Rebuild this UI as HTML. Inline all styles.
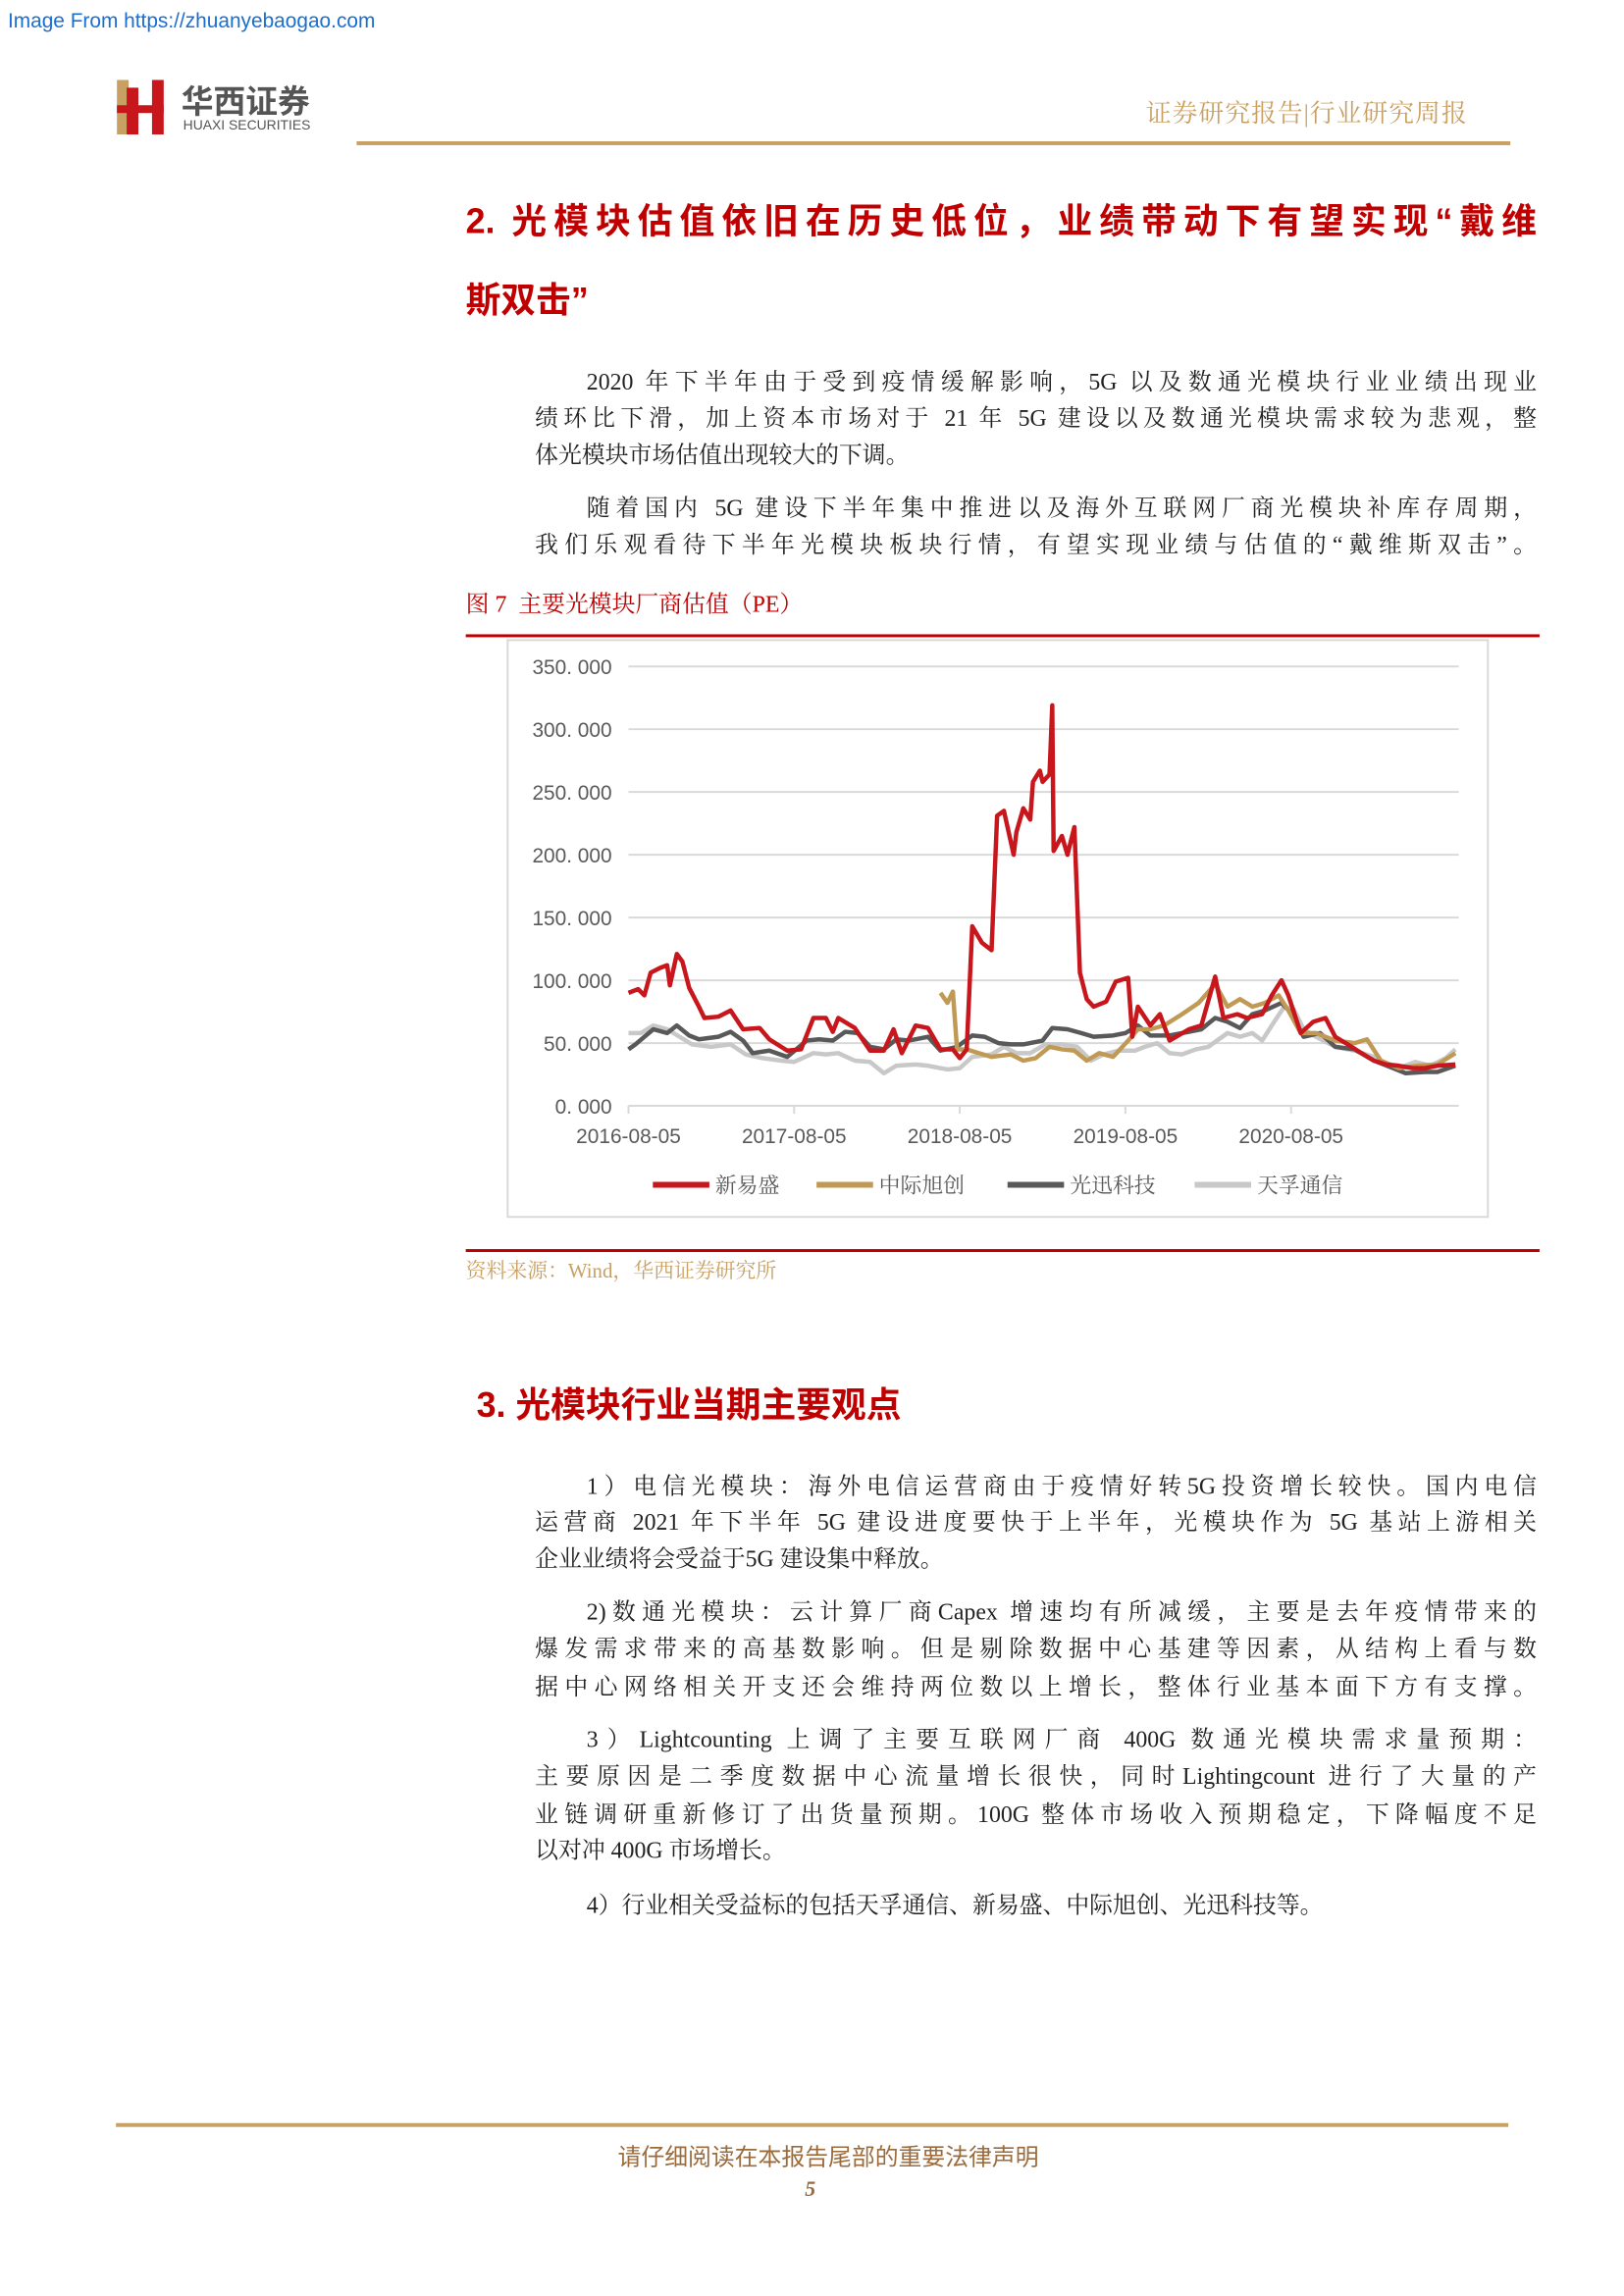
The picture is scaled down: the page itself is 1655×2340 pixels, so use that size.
<!DOCTYPE html>
<html><head><meta charset="utf-8">
<style>
body{margin:0;background:#fff;}
#outer{position:relative;width:1655px;height:2340px;overflow:hidden;background:#fff;}
#page{position:relative;width:1655px;height:2340px;overflow:hidden;background:#fff;font-family:"Liberation Serif","Noto Serif CJK SC",serif;color:#222;transform:scale(0.993);transform-origin:0 0;}
.abs{position:absolute;white-space:nowrap;}
.ln{position:absolute;left:549px;width:1028px;height:38px;line-height:38px;font-size:24px;white-space:nowrap;text-align:justify;text-align-last:justify;color:#222;}
.ln.ind{left:602px;width:975px;}
.ln.last{text-align-last:left;}
.h{color:#c00000;font-weight:bold;font-family:"Liberation Sans","Noto Sans CJK SC",sans-serif;font-size:36px;}
</style></head><body>
<div id="outer">
<div id="page">
<div class="abs" style="left:8px;top:10px;font-size:21px;color:#1a6fd1;font-family:'Liberation Sans',sans-serif;">Image From https://zhuanyebaogao.com</div>
<svg class="abs" style="left:118px;top:82px" width="54" height="56">
<rect x="2" y="0" width="12" height="56" fill="#c9a063"/><rect x="2" y="26" width="48" height="8" fill="#c8161d"/><rect x="12" y="8" width="12" height="48" fill="#c8161d"/><rect x="38" y="0" width="12" height="56" fill="#c8161d"/></svg>
<div class="abs" style="left:186px;top:78px;font-size:33px;font-weight:bold;color:#555;font-family:'Noto Sans CJK SC',sans-serif;">华西证券</div>
<div class="abs" style="left:188px;top:120px;font-size:14px;color:#555;font-family:'Liberation Sans',sans-serif;">HUAXI SECURITIES</div>
<div class="abs" style="left:1176px;top:96px;font-size:26px;color:#c9a063;letter-spacing:1px;">证券研究报告|行业研究周报</div>
<div class="abs" style="left:366px;top:145px;width:1184px;height:4px;background:#c9a063;"></div>

<div class="abs h" style="left:478px;top:198px;width:1099px;text-align:justify;text-align-last:justify;">2. 光模块估值依旧在历史低位，业绩带动下有望实现“戴维</div>
<div class="abs h" style="left:478px;top:279px;">斯双击”</div>

<div class="ln ind" style="top:374px">2020 年下半年由于受到疫情缓解影响，5G 以及数通光模块行业业绩出现业</div>
<div class="ln" style="top:411px">绩环比下滑，加上资本市场对于 21 年 5G 建设以及数通光模块需求较为悲观，整</div>
<div class="ln last" style="top:449px">体光模块市场估值出现较大的下调。</div>
<div class="ln ind" style="top:503px">随着国内 5G 建设下半年集中推进以及海外互联网厂商光模块补库存周期，</div>
<div class="ln" style="top:541px">我们乐观看待下半年光模块板块行情，有望实现业绩与估值的“戴维斯双击”。</div>

<div class="abs" style="left:478px;top:600px;font-size:24px;color:#c00000;">图 7&nbsp;&nbsp;主要光模块厂商估值（PE）</div>
<div class="abs" style="left:478px;top:651px;width:1102px;height:3px;background:#c00000;"></div>
<div class="abs" style="left:520px;top:656px;width:1008px;height:594px;border:2px solid #d9d9d9;box-sizing:border-box;"></div>
<svg id="chart" class="abs" style="left:0;top:0" width="1655" height="1300"></svg>
<div class="abs" style="left:478px;top:1282px;width:1102px;height:3px;background:#c00000;"></div>
<div class="abs" style="left:478px;top:1288px;font-size:21px;color:#c9a063;">资料来源：Wind，华西证券研究所</div>

<div class="abs h" style="left:489px;top:1413px;">3. 光模块行业当期主要观点</div>

<div class="ln ind" style="top:1507px">1）电信光模块：海外电信运营商由于疫情好转5G投资增长较快。国内电信</div>
<div class="ln" style="top:1544px">运营商 2021 年下半年 5G 建设进度要快于上半年，光模块作为 5G 基站上游相关</div>
<div class="ln last" style="top:1582px">企业业绩将会受益于5G 建设集中释放。</div>
<div class="ln ind" style="top:1636px">2)数通光模块：云计算厂商Capex 增速均有所减缓，主要是去年疫情带来的</div>
<div class="ln" style="top:1674px">爆发需求带来的高基数影响。但是剔除数据中心基建等因素，从结构上看与数</div>
<div class="ln" style="top:1713px">据中心网络相关开支还会维持两位数以上增长，整体行业基本面下方有支撑。</div>
<div class="ln ind" style="top:1767px">3）Lightcounting 上调了主要互联网厂商 400G 数通光模块需求量预期：</div>
<div class="ln" style="top:1805px">主要原因是二季度数据中心流量增长很快，同时Lightingcount 进行了大量的产</div>
<div class="ln" style="top:1844px">业链调研重新修订了出货量预期。100G 整体市场收入预期稳定，下降幅度不足</div>
<div class="ln last" style="top:1881px">以对冲 400G 市场增长。</div>
<div class="ln ind last" style="top:1937px">4）行业相关受益标的包括天孚通信、新易盛、中际旭创、光迅科技等。</div>

<div class="abs" style="left:119px;top:2179px;width:1429px;height:4px;background:#c9a063;"></div>
<div class="abs" style="left:0;width:1700px;text-align:center;top:2194px;font-size:24px;color:#9c6b3c;font-family:'Liberation Sans','Noto Sans CJK SC',sans-serif;">请仔细阅读在本报告尾部的重要法律声明</div>
<div class="abs" style="left:826px;top:2234px;font-size:22px;font-weight:bold;font-style:italic;color:#9c6b3c;">5</div>
</div>
</div>
<script>
// months since 2016-08-05
const xTickLabels=["2016-08-05","2017-08-05","2018-08-05","2019-08-05","2020-08-05"];
const yTicks=[0,50,100,150,200,250,300,350];
const seriesNames=["新易盛","中际旭创","光迅科技","天孚通信"];
const redT=[0,0.7,1.15,1.6,2.3,2.8,3.0,3.5,3.9,4.4,5.1,5.5,6.5,7.4,8.3,9.5,10.2,11.5,12.5,13.4,14.3,14.8,15.2,16.4,17.5,18.5,19.2,19.8,20.8,21.7,22.6,23.5,24.0,24.5,24.9,25.6,26.3,26.7,27.2,27.9,28.1,28.6,29.1,29.3,29.8,30.0,30.5,30.7,30.8,31.4,31.8,32.3,32.7,33.2,33.7,34.6,35.3,36.2,36.5,36.9,37.8,38.5,39.2,40.6,41.5,42.5,43.1,44.1,44.8,45.9,46.6,47.3,47.8,48.7,49.6,50.5,51.2,52.1,53.1,54.0,54.9,55.8,56.8,57.7,58.6,59.9];
const redV=[90,93,88,106,110,112,96,121,115,94,79,70,71,76,61,62,53,44,45,70,70,59,70,62,44,44,61,42,64,62,45,45,38,45,143,130,124,231,235,200,218,237,228,258,267,258,264,319,203,215,200,222,106,85,79,83,99,102,55,79,64,73,52,61,64,103,70,73,70,73,88,100,88,58,67,70,55,49,42,36,33,32,30,30,32,33];
const goldT=[22.6,23.1,23.5,23.8,24.5,25.4,26.3,27.7,28.6,29.5,30.5,31.4,32.3,33.2,34.1,35.1,36.2,36.9,37.8,38.8,40.1,41.3,42.5,43.4,44.3,45.2,46.1,47.1,47.8,48.7,49.8,51.2,52.6,53.5,54.5,55.8,57.2,58.6,59.9];
const goldV=[90,82,91,45,45,42,39,41,36,38,47,45,44,36,42,39,52,61,61,64,73,82,97,79,85,79,82,88,76,58,58,52,50,53,36,30,32,33,42];
const darkT=[0,0.5,1.15,1.8,2.8,3.5,4.4,5.1,6.5,7.4,8.3,9.0,10.2,11.5,12.9,13.8,14.8,15.7,16.6,17.5,18.5,19.4,20.3,21.7,22.6,23.8,24.9,25.8,26.8,27.7,28.6,30.0,30.7,31.8,32.8,33.7,35.1,36.0,36.9,37.8,39.2,40.6,41.5,42.5,43.4,44.3,45.2,46.1,47.3,48.0,48.9,50.1,51.2,52.6,54.0,55.4,56.3,57.7,58.6,59.9];
const darkV=[45,49,55,61,58,64,56,53,55,59,52,42,44,39,52,53,52,59,58,47,45,53,52,55,44,47,56,55,50,49,49,52,62,61,58,55,56,58,64,56,56,59,61,70,67,62,73,76,82,74,55,58,47,45,36,30,26,27,27,32];
const lightT=[0,0.9,1.8,2.8,3.7,4.6,6.0,7.4,8.5,9.7,11.1,12.0,13.4,14.3,15.2,16.4,17.5,18.5,19.4,20.8,21.7,23.1,24.0,24.9,26.3,27.2,28.1,29.1,30.2,31.4,32.5,33.5,34.4,35.5,36.7,37.4,38.3,39.2,40.1,41.1,42.0,43.4,44.3,45.2,45.9,46.6,47.5,48.2,48.9,49.8,51.2,52.6,54.0,54.9,55.8,57.0,58.1,59.2,59.9];
const lightV=[58,58,64,61,55,49,47,49,41,38,36,35,42,41,42,36,35,26,32,33,32,29,30,39,41,47,42,42,49,49,47,36,41,44,44,47,50,42,41,45,47,58,55,58,52,64,79,77,61,55,47,44,39,33,30,35,32,38,45];

const NS="http://www.w3.org/2000/svg";
const svg=document.getElementById("chart");
const X0=645,PX_PER_MONTH=170/12,Y0=1135,PX_PER_UNIT=(1135-684)/350,XEND=1497;
const xs=m=>X0+m*PX_PER_MONTH, ys=v=>Y0-v*PX_PER_UNIT;
function mk(tag,attrs){const e=document.createElementNS(NS,tag);for(const k in attrs)e.setAttribute(k,attrs[k]);svg.appendChild(e);return e;}
yTicks.forEach(v=>{
  const g=mk("line",{x1:X0,x2:XEND,y1:ys(v),y2:ys(v),stroke:"#d9d9d9","stroke-width":2});
  
  
  const t=mk("text",{x:628,y:ys(v)+8,"text-anchor":"end","font-size":21,fill:"#595959","font-family":"Liberation Sans, sans-serif"});
  t.textContent=v.toFixed(3).replace(".",". ");
  
  
});
xTickLabels.forEach((lab,i)=>{
  const x=xs(i*12);
  const tk=mk("line",{x1:x,x2:x,y1:Y0,y2:Y0+8,stroke:"#d9d9d9","stroke-width":2});
  
  
  const t=mk("text",{x:x,y:1173,"text-anchor":"middle","font-size":21,fill:"#595959","font-family":"Liberation Sans, sans-serif"});
  t.textContent=lab;
  
  
});
const colors=["#c8161d","#c09a55","#595959","#c8c8c8"];
const data=[[lightT,lightV,3],[darkT,darkV,2],[goldT,goldV,1],[redT,redV,0]];
data.forEach(([T,V,i])=>{
  const d=T.map((t,k)=>(k?"L":"M")+xs(t).toFixed(1)+","+ys(V[k]).toFixed(1)).join("");
  const p=mk("path",{d:d,fill:"none",stroke:colors[i],"stroke-width":4.5,"stroke-linejoin":"round"});
  
  
});
const legX=[670,838,1034,1226];
seriesNames.forEach((n,i)=>{
  const l=mk("line",{x1:legX[i],x2:legX[i]+58,y1:1216,y2:1216,stroke:colors[i],"stroke-width":6});
  
  
  const t=mk("text",{x:legX[i]+64,y:1224,"font-size":22,fill:"#595959","font-family":"Liberation Serif, Noto Serif CJK SC, serif"});
  t.textContent=n;
  
  
});
</script>
</body></html>
